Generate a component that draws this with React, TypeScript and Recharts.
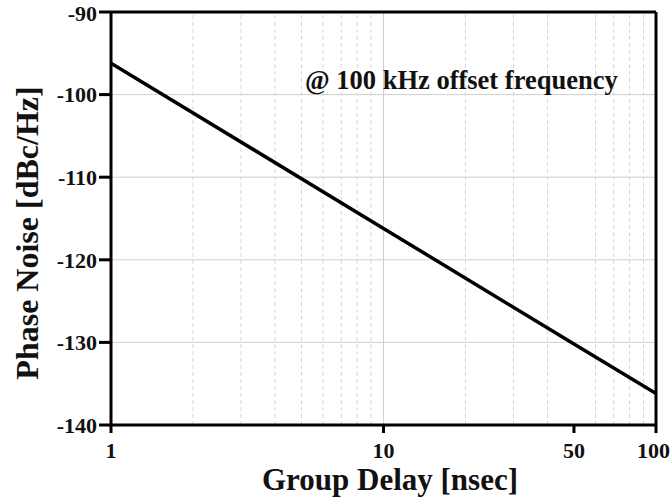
import React from 'react';
import {
  LineChart,
  Line,
  XAxis,
  YAxis,
  CartesianGrid,
  ReferenceLine,
} from 'recharts';

// group delay [nsec] and phase noise [dBc/Hz]
const groupDelay = [1, 10, 50, 100];
const phaseNoise = [-96.2, -116.2, -130.2, -136.2];

const xTicks = [1, 10, 50, 100];
const yTicks = [-140, -130, -120, -110, -100, -90];
const minorX = [2, 3, 4, 5, 6, 7, 8, 9, 20, 30, 40, 60, 70, 80, 90];

const data = groupDelay.map((x, i) => ({ x, y: phaseNoise[i] }));

const serif = '"Liberation Serif", "Times New Roman", serif';
const tickStyle = { fontFamily: serif, fontWeight: 700, fontSize: 22, fill: '#111' };

export default function App() {
  return (
    <div style={{ position: 'absolute', left: 0, top: 0, width: 670, height: 498, background: '#fff', overflow: 'hidden' }}>
      <LineChart
        width={670}
        height={498}
        data={data}
        margin={{ top: 12, right: 14, left: 51, bottom: 33 }}
      >
        <CartesianGrid vertical={false} stroke="#cfcfcf" strokeWidth={1} />
        {minorX.map((v) => (
          <ReferenceLine key={v} x={v} stroke="#d6d6d6" strokeDasharray="4 3" strokeWidth={1} />
        ))}
        <ReferenceLine x={10} stroke="#cfcfcf" strokeWidth={1} />
        <XAxis
          dataKey="x"
          type="number"
          scale="log"
          domain={[1, 100]}
          ticks={xTicks}
          allowDataOverflow
          height={40}
          stroke="#000"
          strokeWidth={3}
          tickSize={8}
          tickMargin={9}
          tick={tickStyle}
          tickLine={{ stroke: '#000', strokeWidth: 3 }}
        />
        <YAxis
          type="number"
          domain={[-140, -90]}
          ticks={yTicks}
          allowDataOverflow
          width={60}
          stroke="#000"
          strokeWidth={3}
          tickSize={12}
          tickMargin={2}
          tick={tickStyle}
          tickLine={{ stroke: '#000', strokeWidth: 3 }}
        />
        <ReferenceLine y={-90} stroke="#000" strokeWidth={3} />
        <ReferenceLine x={100} stroke="#000" strokeWidth={3} />
        <Line
          dataKey="y"
          type="linear"
          stroke="#000"
          strokeWidth={3.5}
          dot={false}
          isAnimationActive={false}
        />
      </LineChart>
      <div
        style={{
          position: 'absolute',
          left: 305,
          top: 65,
          fontFamily: serif,
          fontWeight: 700,
          fontSize: 26.5,
          color: '#111',
          whiteSpace: 'nowrap',
        }}
      >
        @ 100 kHz offset frequency
      </div>
      <div
        style={{
          position: 'absolute',
          left: 27,
          top: 233,
          transform: 'translate(-50%, -50%) rotate(-90deg)',
          fontFamily: serif,
          fontWeight: 700,
          fontSize: 32,
          lineHeight: 1,
          color: '#111',
          whiteSpace: 'nowrap',
        }}
      >
        Phase Noise [dBc/Hz]
      </div>
      <div
        style={{
          position: 'absolute',
          left: 390,
          top: 464,
          transform: 'translateX(-50%)',
          fontFamily: serif,
          fontWeight: 700,
          fontSize: 31,
          lineHeight: 1,
          color: '#111',
          whiteSpace: 'nowrap',
        }}
      >
        Group Delay [nsec]
      </div>
    </div>
  );
}
